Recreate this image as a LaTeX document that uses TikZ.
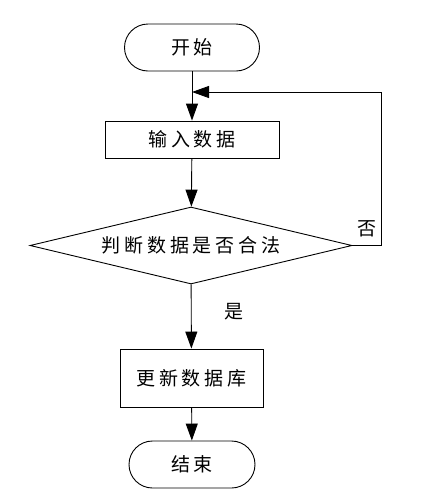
\documentclass[tikz,border=0pt]{standalone}
\usepackage{fontspec}
\newfontfamily\cjk[LetterSpace=20]{Noto Sans CJK SC}
\usetikzlibrary{shapes.geometric,arrows.meta}
\begin{document}
\begin{tikzpicture}[x=1pt,y=-1pt,
  every node/.style={font=\cjk\fontsize{19}{22}\selectfont},
  term/.style={draw,line width=0.9pt,rounded corners=23.5pt,minimum width=#1,minimum height=47pt,inner sep=0pt},
  proc/.style={draw,line width=0.9pt,minimum height=37pt,inner sep=0pt},
  dec/.style={draw,line width=0.9pt,diamond,aspect=4.18,minimum width=322pt,minimum height=77pt,inner sep=0pt},
  flow/.style={line width=0.9pt,-{Triangle[length=17pt,width=12pt]}},
  lbl/.style={inner sep=0pt}]
\useasboundingbox (0,0) rectangle (424,499);
\node[term=135pt] (start) at (192,47.5) {开始};
\node[proc,minimum width=174pt] (input) at (192,139.5) {输入数据};
\node[dec] (check) at (191,245.5) {判断数据是否合法};
\node[proc,minimum width=143pt,minimum height=58pt] (update) at (191.5,378) {更新数据库};
\node[term=126pt] (end) at (192,464.5) {结束};
\coordinate (join) at (192,92);
\coordinate (rt) at (381,245.5);
\coordinate (rtop) at (381,92);
\draw[line width=0.9pt] (start) -- (join);
\draw[flow] (join) -- (input);
\draw[flow] (input) -- (check);
\draw[flow] (check) -- (update);
\draw[flow] (update) -- (end);
\draw[flow] (check.east) -- (rt) -- (rtop) -- (join);
\node[lbl] (no) at (367,229) {否};
\node[lbl] (yes) at (234,312) {是};
\end{tikzpicture}
\end{document}
